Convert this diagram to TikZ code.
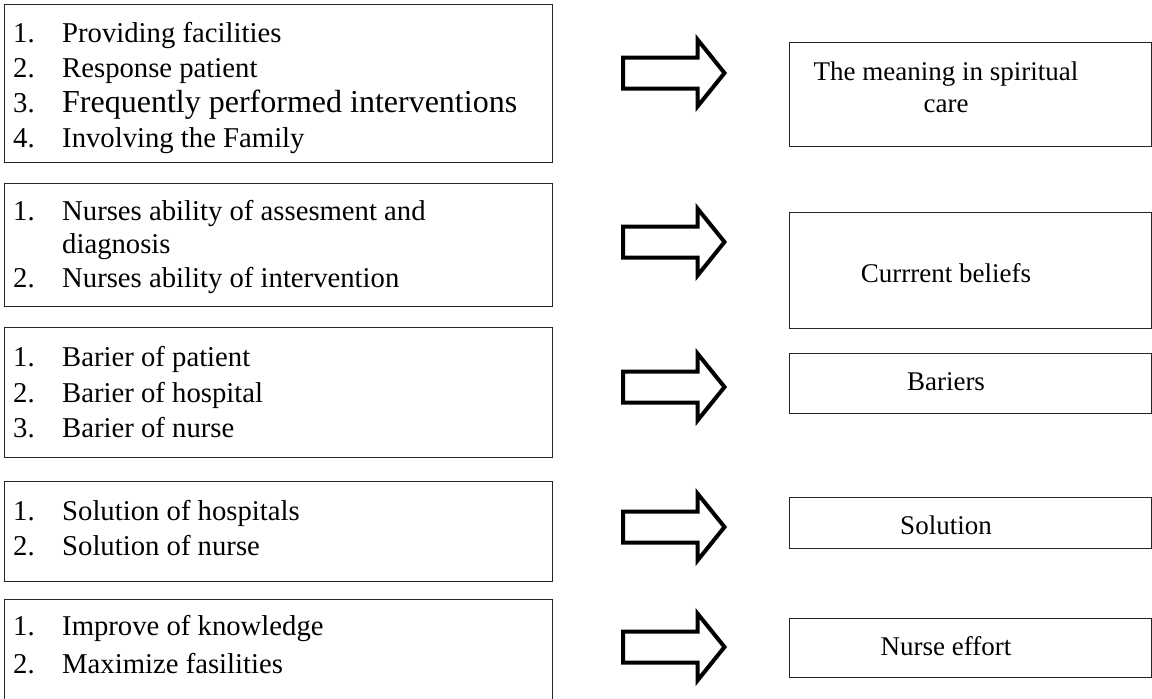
\documentclass[tikz,border=0pt]{standalone}
\usepackage{fontspec}
\setmainfont{Liberation Serif}
\begin{document}
\begin{tikzpicture}[x=1pt,y=-1pt,
  lbox/.style={draw=black!85, line width=1.3pt, rectangle, inner sep=0pt, anchor=north west},
  rbox/.style={draw=black!85, line width=1.3pt, rectangle, inner sep=0pt, anchor=north west, minimum width=362pt},
  num/.style={anchor=base west, inner sep=0pt, font=\fontsize{28.7}{34}\selectfont},
  itm/.style={anchor=base west, inner sep=0pt, font=\fontsize{28.7}{34}\selectfont},
  big/.style={font=\fontsize{32}{36}\selectfont},
  rtxt/.style={anchor=base, inner sep=0pt, font=\fontsize{27}{32}\selectfont},
  bigarrow/.pic={\draw[line width=4pt, line join=miter, miter limit=10]
     (0,-15.5) -- (74.5,-15.5) -- (74.5,-33.5) -- (101.5,0) -- (74.5,33.5) -- (74.5,15.5) -- (0,15.5) -- cycle;}
]
\useasboundingbox (0,0) rectangle (1152,699);

% left boxes
\node[lbox, minimum width=548pt, minimum height=158pt] (L1) at (4,4) {};
\node[lbox, minimum width=548pt, minimum height=123pt] (L2) at (4,183) {};
\node[lbox, minimum width=548pt, minimum height=130pt] (L3) at (4,327) {};
\node[lbox, minimum width=548pt, minimum height=100pt] (L4) at (4,481) {};
\node[lbox, minimum width=548pt, minimum height=106pt] (L5) at (4,599) {};

% right boxes
\node[rbox, minimum height=104pt] (R1) at (789,42) {};
\node[rbox, minimum height=116pt] (R2) at (789,212) {};
\node[rbox, minimum height=60pt] (R3) at (789,353) {};
\node[rbox, minimum height=51pt] (R4) at (789,497) {};
\node[rbox, minimum height=59pt] (R5) at (789,618) {};

% box 1 text
\node[num] (n11) at (13,42) {1.};  \node[itm] (t11) at (62,42) {Providing facilities};
\node[num] (n12) at (13,77) {2.};  \node[itm] (t12) at (62,77) {Response patient};
\node[num] (n13) at (13,112) {3.}; \node[itm,big] (t13) at (62,112) {Frequently performed interventions};
\node[num] (n14) at (13,147) {4.}; \node[itm] (t14) at (62,147) {Involving the Family};

% box 2 text
\node[num] (n21) at (13,220) {1.}; \node[itm] (t21) at (62,220) {Nurses ability of assesment and};
\node[itm] (t21b) at (62,253) {diagnosis};
\node[num] (n22) at (13,287) {2.}; \node[itm] (t22) at (62,287) {Nurses ability of intervention};

% box 3 text
\node[num] (n31) at (13,366) {1.}; \node[itm] (t31) at (62,366) {Barier of patient};
\node[num] (n32) at (13,402) {2.}; \node[itm] (t32) at (62,402) {Barier of hospital};
\node[num] (n33) at (13,437) {3.}; \node[itm] (t33) at (62,437) {Barier of nurse};

% box 4 text
\node[num] (n41) at (13,520) {1.}; \node[itm] (t41) at (62,520) {Solution of hospitals};
\node[num] (n42) at (13,555) {2.}; \node[itm] (t42) at (62,555) {Solution of nurse};

% box 5 text
\node[num] (n51) at (13,635) {1.}; \node[itm] (t51) at (62,635) {Improve of knowledge};
\node[num] (n52) at (13,673) {2.}; \node[itm] (t52) at (62,673) {Maximize fasilities};

% right texts
\node[rtxt] (r1a) at (946,80) {The meaning in spiritual};
\node[rtxt] (r1b) at (946,112) {care};
\node[rtxt] (r2) at (946,282) {Currrent beliefs};
\node[rtxt] (r3) at (946,390) {Bariers};
\node[rtxt] (r4) at (946,534) {Solution};
\node[rtxt] (r5) at (946,655) {Nurse effort};

% block arrows
\pic at (623,73) {bigarrow};
\pic at (623,242) {bigarrow};
\pic at (623,387) {bigarrow};
\pic at (623,527) {bigarrow};
\pic at (623,647) {bigarrow};
\end{tikzpicture}
\end{document}
